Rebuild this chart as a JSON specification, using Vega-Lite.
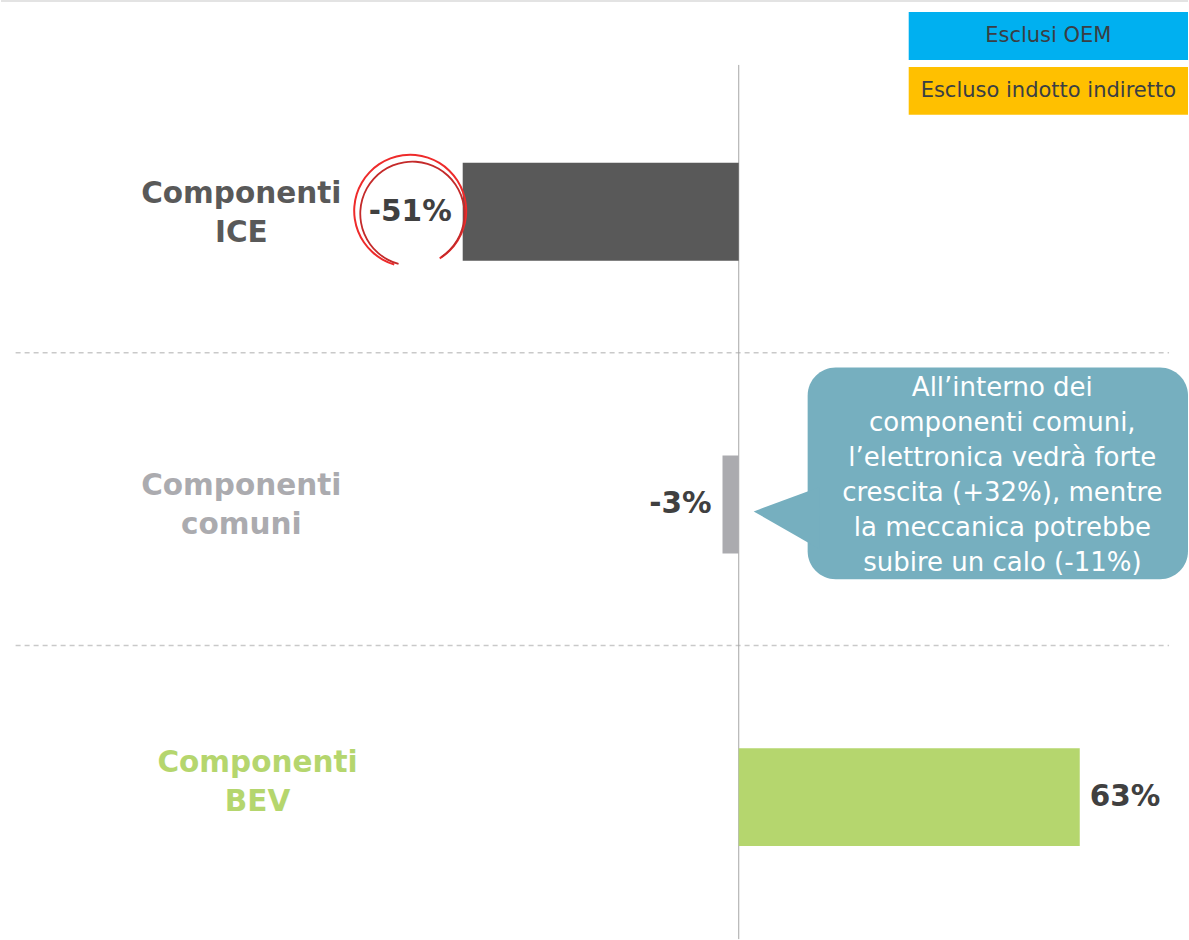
{
  "$schema": "https://vega.github.io/schema/vega-lite/v6.json",
  "width": 1189,
  "height": 940,
  "autosize": {"type": "fit", "contains": "padding"},
  "padding": 0,
  "background": "white",
  "config": {"view": {"stroke": null}, "text": {"font": "DejaVu Sans"}},
  "data": {
    "values": [
      {"category": "Componenti ICE", "label": "Componenti\nICE", "value": -51, "valueLabel": "-51%"},
      {"category": "Componenti comuni", "label": "Componenti\ncomuni", "value": -3, "valueLabel": "-3%"},
      {"category": "Componenti BEV", "label": "Componenti\nBEV", "value": 63, "valueLabel": "63%"}
    ]
  },
  "layer": [
    {
      "data": {"values": [{}]},
      "mark": {"type": "rule", "color": "#E3E3E3", "strokeWidth": 2},
      "encoding": {
        "x": {"datum": -136.3, "type": "quantitative", "scale": {"domain": [-136.3, 83], "nice": false, "zero": false}, "axis": null},
        "x2": {"datum": 83},
        "y": {"datum": "Componenti ICE", "type": "nominal", "bandPosition": -1.653, "axis": null,
              "scale": {"domain": ["Componenti ICE", "Componenti comuni", "Componenti BEV"], "paddingInner": 0.6655, "paddingOuter": 0.4369, "align": 0.6367}}
      }
    },
    {
      "transform": [{"filter": "datum.category !== 'Componenti BEV'"}],
      "mark": {"type": "rule", "color": "#C9C9C9", "strokeWidth": 1.5, "strokeDash": [5, 4]},
      "encoding": {
        "x": {"datum": -133.6, "type": "quantitative"},
        "x2": {"datum": 79.5},
        "y": {"field": "category", "type": "nominal", "bandPosition": 1.94}
      }
    },
    {
      "data": {"values": [{}]},
      "mark": {"type": "rule", "color": "#A6A6A6", "strokeWidth": 1},
      "encoding": {
        "x": {"datum": 0, "type": "quantitative"},
        "y": {"datum": "Componenti ICE", "type": "nominal", "bandPosition": -1.0},
        "y2": {"datum": "Componenti BEV", "bandPosition": 1.95}
      }
    },
    {
      "mark": {"type": "bar"},
      "encoding": {
        "x": {"field": "value", "type": "quantitative"},
        "x2": {"datum": 0},
        "y": {"field": "category", "type": "nominal"},
        "color": {"field": "category", "type": "nominal", "legend": null,
                  "scale": {"domain": ["Componenti ICE", "Componenti comuni", "Componenti BEV"], "range": ["#595959", "#ABABAF", "#B5D66E"]}}
      }
    },
    {
      "transform": [{"filter": "datum.value < 0"}],
      "mark": {"type": "text", "align": "right", "baseline": "middle", "dx": -11, "fontSize": 29.5, "fontWeight": "bold", "color": "#404040"},
      "encoding": {
        "x": {"field": "value", "type": "quantitative"},
        "y": {"field": "category", "type": "nominal"},
        "text": {"field": "valueLabel"}
      }
    },
    {
      "transform": [{"filter": "datum.value >= 0"}],
      "mark": {"type": "text", "align": "left", "baseline": "middle", "dx": 10, "fontSize": 29.5, "fontWeight": "bold", "color": "#404040"},
      "encoding": {
        "x": {"field": "value", "type": "quantitative"},
        "y": {"field": "category", "type": "nominal"},
        "text": {"field": "valueLabel"}
      }
    },
    {
      "transform": [{"filter": "datum.category !== 'Componenti BEV'"}],
      "mark": {"type": "text", "align": "center", "baseline": "middle", "lineBreak": "\n", "lineHeight": 39, "fontSize": 29.5, "fontWeight": "bold"},
      "encoding": {
        "x": {"datum": -91.9, "type": "quantitative"},
        "y": {"field": "category", "type": "nominal", "bandPosition": 0.315},
        "text": {"field": "label"},
        "color": {"field": "category", "type": "nominal", "legend": null}
      }
    },
    {
      "transform": [{"filter": "datum.category === 'Componenti BEV'"}],
      "mark": {"type": "text", "align": "center", "baseline": "middle", "lineBreak": "\n", "lineHeight": 39, "fontSize": 29.5, "fontWeight": "bold"},
      "encoding": {
        "x": {"datum": -88.9, "type": "quantitative"},
        "y": {"field": "category", "type": "nominal", "bandPosition": 0.153},
        "text": {"field": "label"},
        "color": {"field": "category", "type": "nominal", "legend": null}
      }
    },
    {
      "data": {"values": [{}]},
      "mark": {"type": "arc", "theta": 3.43, "theta2": 8.87, "radius": 57, "radius2": 55, "color": "#EE2B2B"},
      "encoding": {
        "x": {"datum": -60.7, "type": "quantitative"},
        "y": {"datum": "Componenti ICE", "type": "nominal", "bandPosition": 0.49}
      }
    },
    {
      "data": {"values": [{}]},
      "mark": {"type": "arc", "theta": 3.41, "theta2": 8.84, "radius": 53, "radius2": 51.2, "color": "#C42A2A"},
      "encoding": {
        "x": {"datum": -60.3, "type": "quantitative"},
        "y": {"datum": "Componenti ICE", "type": "nominal", "bandPosition": 0.52}
      }
    },
    {
      "data": {"values": [{}]},
      "mark": {"type": "rect", "color": "#00B0F0"},
      "encoding": {
        "x": {"datum": 31.4, "type": "quantitative"},
        "x2": {"datum": 83},
        "y": {"datum": "Componenti ICE", "type": "nominal", "bandPosition": -1.541},
        "y2": {"datum": "Componenti ICE", "bandPosition": -1.051}
      }
    },
    {
      "data": {"values": [{}]},
      "mark": {"type": "rect", "color": "#FFC000"},
      "encoding": {
        "x": {"datum": 31.4, "type": "quantitative"},
        "x2": {"datum": 83},
        "y": {"datum": "Componenti ICE", "type": "nominal", "bandPosition": -0.98},
        "y2": {"datum": "Componenti ICE", "bandPosition": -0.49}
      }
    },
    {
      "data": {"values": [{}]},
      "mark": {"type": "text", "align": "center", "baseline": "middle", "fontSize": 21, "color": "#3A3E44", "text": "Esclusi OEM"},
      "encoding": {
        "x": {"datum": 57.2, "type": "quantitative"},
        "y": {"datum": "Componenti ICE", "type": "nominal", "bandPosition": -1.296}
      }
    },
    {
      "data": {"values": [{}]},
      "mark": {"type": "text", "align": "center", "baseline": "middle", "fontSize": 21, "color": "#3A3E44", "text": "Escluso indotto indiretto"},
      "encoding": {
        "x": {"datum": 57.2, "type": "quantitative"},
        "y": {"datum": "Componenti ICE", "type": "nominal", "bandPosition": -0.735}
      }
    },
    {
      "data": {"values": [{}]},
      "mark": {"type": "rect", "color": "#76AFBF", "cornerRadius": 28},
      "encoding": {
        "x": {"datum": 12.73, "type": "quantitative"},
        "x2": {"datum": 83},
        "y": {"datum": "Componenti comuni", "type": "nominal", "bandPosition": -0.898},
        "y2": {"datum": "Componenti comuni", "bandPosition": 1.265}
      }
    },
    {
      "data": {"values": [{}]},
      "mark": {"type": "point", "shape": "M -1 0 L 1 -0.74 L 1 1.15 Z", "size": 4356, "filled": true, "opacity": 1, "color": "#76AFBF", "strokeWidth": 0},
      "encoding": {
        "x": {"datum": 8.86, "type": "quantitative"},
        "y": {"datum": "Componenti comuni", "type": "nominal", "bandPosition": 0.571}
      }
    },
    {
      "data": {"values": [{}]},
      "mark": {"type": "text", "align": "center", "baseline": "middle", "fontSize": 26, "lineHeight": 35, "color": "white",
               "text": ["All’interno dei", "componenti comuni,", "l’elettronica vedrà forte", "crescita (+32%), mentre", "la meccanica potrebbe", "subire un calo (-11%)"]},
      "encoding": {
        "x": {"datum": 48.7, "type": "quantitative"},
        "y": {"datum": "Componenti comuni", "type": "nominal", "bandPosition": -0.694}
      }
    }
  ]
}
